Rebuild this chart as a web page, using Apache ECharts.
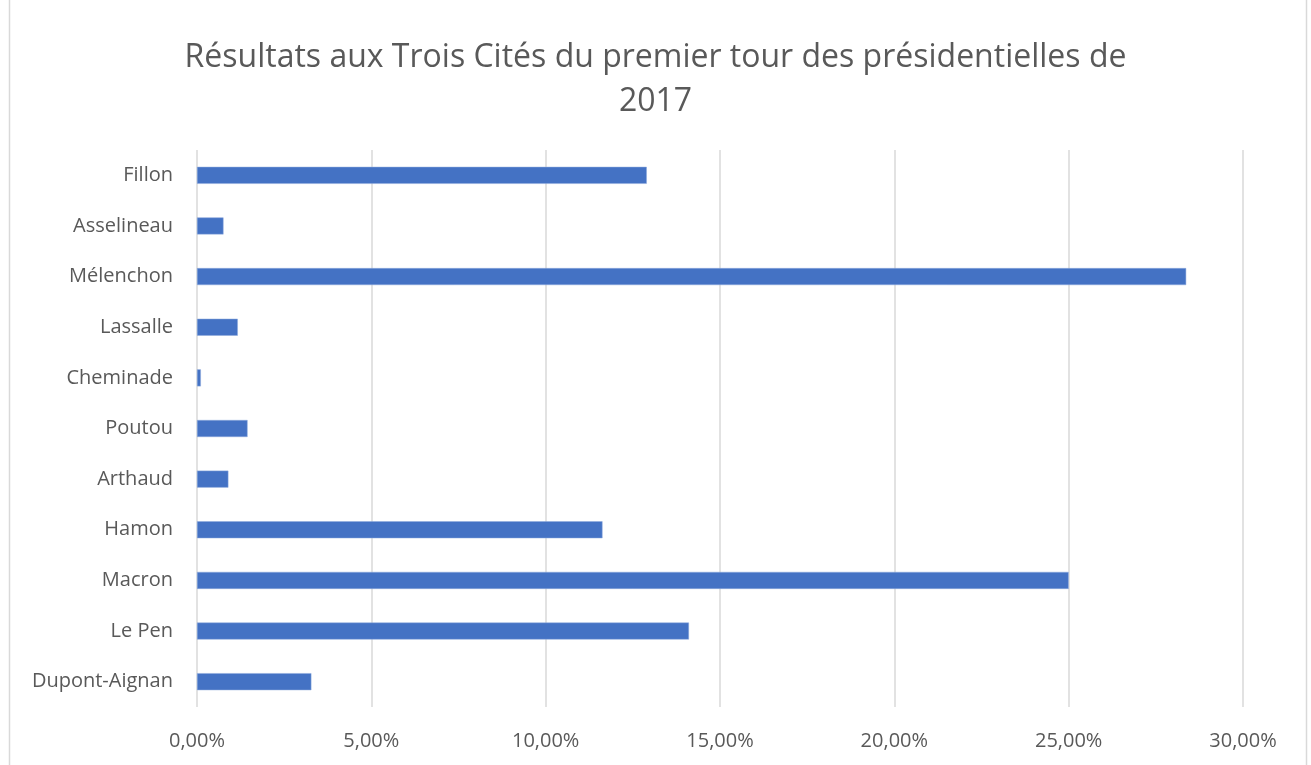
<!DOCTYPE html>
<html>
<head>
<meta charset="utf-8">
<script src="https://cdn.jsdelivr.net/npm/echarts@6/dist/echarts.min.js"></script>
<style>
  html, body { margin: 0; padding: 0; background: #fff; }
  #chart { width: 1311px; height: 765px; }
</style>
</head>
<body>
<div id="chart"></div>
<script>
// Candidates, top to bottom
const candidates = ['Fillon', 'Asselineau', 'Mélenchon', 'Lassalle', 'Cheminade', 'Poutou',
  'Arthaud', 'Hamon', 'Macron', 'Le Pen', 'Dupont-Aignan']
// Share of votes, percent
const shares = [12.90, 0.76, 28.37, 1.17, 0.11, 1.45, 0.90, 11.63, 25.00, 14.11, 3.28]
const xTicks = [0, 5, 10, 15, 20, 25, 30]

const chart = echarts.init(document.getElementById('chart'))
const font = '"Open Sans", "Liberation Sans", sans-serif'

const option = {
  animation: false,
  textStyle: { fontFamily: font },
  title: {
    text: 'Résultats aux Trois Cités du premier tour des présidentielles de\n2017',
    left: 'center',
    top: 31,
    textStyle: {
      fontFamily: font,
      fontSize: 32,
      fontWeight: 'normal',
      color: '#595959',
      lineHeight: 44
    }
  },
  graphic: [{
    type: 'rect',
    shape: { x: 9.5, y: -2, width: 1297, height: 780 },
    style: { fill: 'none', stroke: '#d9d9d9', lineWidth: 1.5 },
    silent: true
  }],
  grid: { left: 197, right: 68, top: 150, bottom: 58 },
  xAxis: {
    type: 'value',
    min: xTicks[0],
    max: xTicks[xTicks.length - 1],
    interval: 5,
    axisLine: { show: false },
    axisTick: { show: false },
    splitLine: { lineStyle: { color: '#d9d9d9', width: 1.5 } },
    axisLabel: {
      margin: 24,
      fontSize: 20,
      color: '#595959',
      fontFamily: font,
      formatter: v => v.toFixed(2).replace('.', ',') + '%'
    }
  },
  yAxis: {
    type: 'category',
    inverse: true,
    data: candidates,
    axisLine: { show: false },
    axisTick: { show: false },
    axisLabel: { margin: 24, fontSize: 20, color: '#595959', fontFamily: font }
  },
  series: [{
    type: 'bar',
    data: shares,
    barWidth: 17,
    itemStyle: { color: '#4472C4', borderColor: '#8faadc', borderWidth: 0.5 }
  }]
}

chart.setOption(option)
</script>
</body>
</html>
